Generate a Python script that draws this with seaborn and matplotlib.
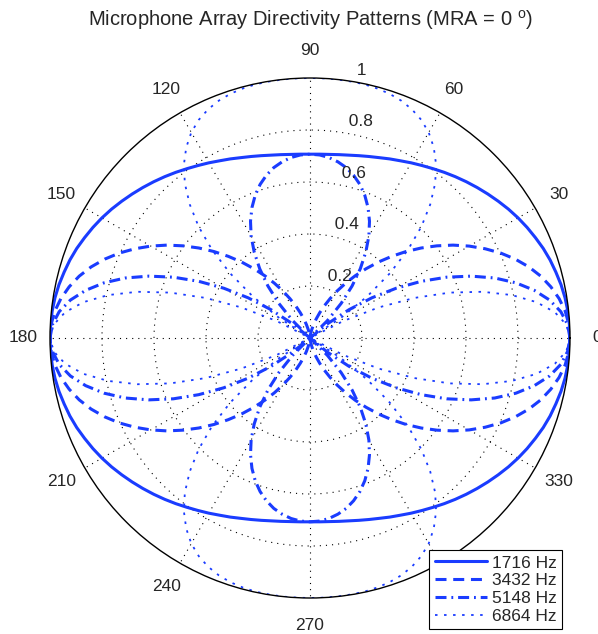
import numpy as np
import pandas as pd
import matplotlib
matplotlib.use("Agg")
import matplotlib.pyplot as plt
import seaborn as sns

sns.set_style("white")
plt.rcParams["font.family"] = ["Liberation Sans", "DejaVu Sans"]
plt.rcParams["mathtext.fontset"] = "custom"
plt.rcParams["mathtext.rm"] = "Liberation Sans"

# first quadrant, 0..90 deg every 3 deg (pattern is symmetric about both axes)
angle_q = np.arange(0, 91, 3)
r_1716 = [1.000, 0.999, 0.997, 0.993, 0.987, 0.979, 0.971, 0.961, 0.949, 0.937, 0.924,
          0.910, 0.895, 0.880, 0.865, 0.850, 0.835, 0.820, 0.805, 0.791, 0.778,
          0.765, 0.754, 0.743, 0.734, 0.726, 0.719, 0.714, 0.710, 0.708, 0.707]
r_3432 = [1.000, 0.997, 0.987, 0.970, 0.947, 0.919, 0.885, 0.846, 0.803, 0.756, 0.707,
          0.656, 0.603, 0.550, 0.497, 0.444, 0.393, 0.343, 0.296, 0.251, 0.209,
          0.170, 0.135, 0.104, 0.077, 0.054, 0.034, 0.019, 0.009, 0.002, 0.000]
r_5148 = [1.000, 0.992, 0.970, 0.933, 0.882, 0.820, 0.747, 0.664, 0.575, 0.480, 0.383,
          0.284, 0.185, 0.088, 0.006, 0.095, 0.179, 0.257, 0.329, 0.394, 0.453,
          0.504, 0.549, 0.588, 0.621, 0.648, 0.670, 0.686, 0.698, 0.705, 0.707]
r_6864 = [1.000, 0.987, 0.947, 0.882, 0.794, 0.687, 0.565, 0.430, 0.289, 0.144, 0.000,
          0.140, 0.272, 0.395, 0.507, 0.606, 0.691, 0.765, 0.825, 0.874, 0.913,
          0.942, 0.963, 0.978, 0.988, 0.994, 0.998, 0.999, 1.000, 1.000, 1.000]
freqs = ["1716 Hz", "3432 Hz", "5148 Hz", "6864 Hz"]
series = [r_1716, r_3432, r_5148, r_6864]

r_ticks = [0.2, 0.4, 0.6, 0.8, 1.0]
theta_ticks = np.arange(0, 360, 30)


def full_circle(q):
    q = np.asarray(q)
    return np.concatenate([q, q[-2::-1], q[1:], q[-2::-1]])


theta = np.deg2rad(np.arange(0, 361, 3))
df = pd.concat([pd.DataFrame({"theta": theta, "r": full_circle(s), "freq": f})
                for f, s in zip(freqs, series)])

blue = "#1a3cff"
styles = {
    "1716 Hz": dict(linestyle="-", linewidth=2.2),
    "3432 Hz": dict(linestyle=(0, (3.6, 2.2)), linewidth=2.2),
    "5148 Hz": dict(linestyle=(0, (3.6, 1.6, 0.6, 1.6)), linewidth=2.2),
    "6864 Hz": dict(linestyle=(0, (1.4, 3.6)), linewidth=1.3),
}

fig = plt.figure(figsize=(5.98, 6.34), dpi=100)
ax = fig.add_axes([50 / 598, 36 / 634, 520 / 598, 520 / 634], projection="polar")

for f in freqs:
    sns.lineplot(data=df[df["freq"] == f], x="theta", y="r", ax=ax, sort=False,
                 estimator=None, color=blue, label=f, **styles[f])

ax.set_ylim(0, 1)
ax.set_yticks(r_ticks[:-1])
ax.set_yticklabels([])
ax.set_xticks(np.deg2rad(theta_ticks))
ax.set_xticklabels([])
ax.tick_params(length=0)
ax.grid(True, color="k", linestyle=(0, (1, 4.5)), linewidth=0.8)
ax.set_axisbelow(True)
ax.spines["polar"].set_color("k")
ax.spines["polar"].set_linewidth(1.0)
ax.set_xlabel("")
ax.set_ylabel("")

for t in theta_ticks:
    ax.text(np.deg2rad(t), 1.105, str(t), ha="center", va="center",
            fontsize=12.5, clip_on=False)
for rv in r_ticks:
    ax.text(np.deg2rad(82), rv + 0.01, "  " + ("%g" % rv), ha="left", va="bottom",
            fontsize=12.5, clip_on=False)

fig.text(310 / 598, 1 - 20 / 634,
         r"Microphone Array Directivity Patterns (MRA = 0 $^{\mathrm{o}}$)",
         ha="center", va="center", fontsize=14.5)

leg = ax.legend(loc="lower right", bbox_to_anchor=(562 / 598, 5 / 634),
                bbox_transform=fig.transFigure, borderaxespad=0, fontsize=12.5,
                handlelength=3.0, handletextpad=0.3, labelspacing=0.15,
                borderpad=0.3, fancybox=False, framealpha=1)
leg.get_frame().set_edgecolor("k")
leg.get_frame().set_linewidth(0.8)

fig.savefig("out.png", dpi=100)
